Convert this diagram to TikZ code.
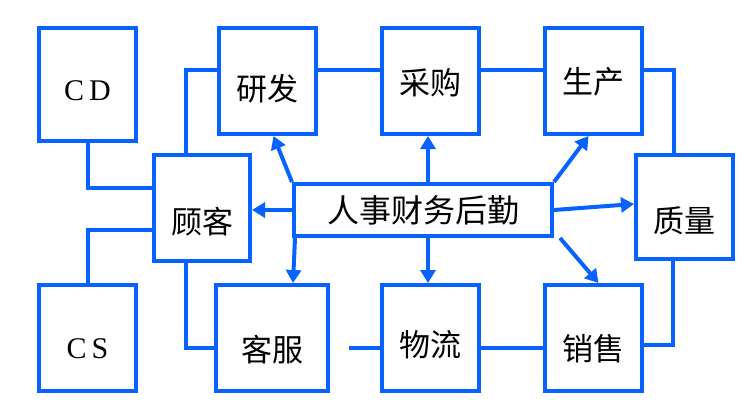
\documentclass[tikz,border=0pt]{standalone}
\usepackage{fontspec}
\newfontfamily\cjk{Noto Sans CJK SC}
\newfontfamily\latinserif{Liberation Serif}
\usetikzlibrary{arrows.meta}
\definecolor{linkblue}{RGB}{8,98,255}

\begin{document}
\begin{tikzpicture}[x=1pt, y=-1pt,
    box/.style={
        draw=linkblue,
        line width=4pt,
        minimum width=97pt,
        minimum height=106pt,
        inner sep=0pt,
        text depth=0pt,
        font=\cjk\fontsize{31}{36}\selectfont
    },
    drop/.style={text height=#1},
    latin/.style={font=\latinserif\fontsize{30}{36}\selectfont},
    link/.style={draw=linkblue, line width=4pt},
    arrow/.style={link, -{Triangle[length=13pt,width=15pt]}}
]
    \useasboundingbox (0,0) rectangle (756,404);

    \node[box, latin, minimum height=113pt, drop=33pt] (cd) at (87.5, 84.5) {C\,D};
    \node[box, drop=38pt] (rnd) at (267.5, 81) {研发};
    \node[box, drop=27pt] (purchase) at (430.5, 81) {采购};
    \node[box, drop=26pt] (produce) at (593.5, 81) {生产};
    \node[box, minimum width=96pt, drop=50pt] (client) at (202, 208) {顾客};
    \node[box, minimum width=258pt, minimum height=52pt, drop=24pt,
          font=\cjk\fontsize{32}{38}\selectfont] (admin) at (423, 210) {人事财务后勤};
    \node[box, minimum height=104pt, drop=50pt] (quality) at (684.5, 207) {质量};
    \node[box, latin, drop=40pt] (cs) at (87.5, 338) {C\,S};
    \node[box, minimum width=112pt, drop=46pt] (service) at (272, 338) {客服};
    \node[box, drop=36pt] (logistics) at (430.5, 338) {物流};
    \node[box, drop=44pt] (sales) at (593.5, 338) {销售};

    % outer ring
    \draw[link] (cd.south) |- ([yshift=20pt]client.west);
    \draw[link] (cs.north) |- ([yshift=-22pt]client.west);
    \draw[link] ([xshift=-16pt]client.north) |- ([yshift=11pt]rnd.west);
    \draw[link] ([yshift=11pt]rnd.east) -- ([yshift=11pt]purchase.west);
    \draw[link] ([yshift=11pt]purchase.east) -- ([yshift=11pt]produce.west);
    \draw[link] ([yshift=11pt]produce.east) -| ([xshift=-11pt]quality.north);
    \draw[link] ([xshift=-16pt]client.south) |- ([yshift=-10pt]service.west);
    \coordinate (gap) at (349, 348);
    \draw[link] (gap) -- (gap -| logistics.west);
    \draw[link] ([yshift=-10pt]logistics.east) -- ([yshift=-10pt]sales.west);
    \draw[link] ([yshift=-7pt]sales.east) -| ([xshift=-12pt]quality.south);

    % from the centre
    \draw[arrow] (admin.north west) -- ([xshift=6pt]rnd.south);
    \draw[arrow] ([xshift=5pt]admin.north) -- ([xshift=-2.5pt]purchase.south);
    \draw[arrow] (admin.north east) -- ([xshift=-5pt]produce.south);
    \draw[arrow] (admin.east) -- ([yshift=3pt]quality.west);
    \draw[arrow] ([xshift=6pt]admin.south east) -- ([xshift=5pt]sales.north);
    \draw[arrow] ([xshift=5pt]admin.south) -- ([xshift=-2.5pt]logistics.north);
    \draw[arrow] ([xshift=3pt]admin.south west) -- ([xshift=21pt]service.north);
    \draw[arrow] (admin.west) -- (admin.west -| client.east);
\end{tikzpicture}
\end{document}
